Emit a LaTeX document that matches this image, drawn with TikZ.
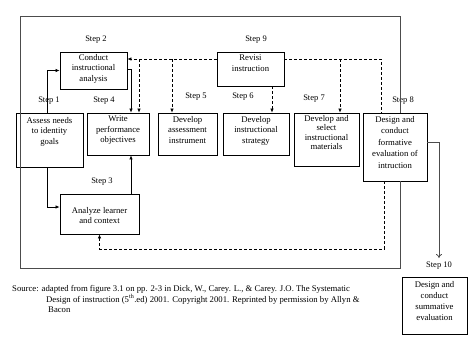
\documentclass[tikz,border=0pt]{standalone}
\usepackage{fontspec}
\setmainfont{Liberation Serif}
\usetikzlibrary{arrows.meta,calc}
\newcommand\bxt[4]{\parbox[c][#2][t]{#1}{\centering\vspace*{#3}#4}}
\begin{document}
\begin{tikzpicture}[x=1pt,y=-1pt,
  font=\fontsize{8.7}{10.5}\selectfont,
  stepbox/.style={draw=black,line width=0.8pt,inner sep=0pt,rectangle},
  steplbl/.style={inner sep=0pt,font=\fontsize{8.5}{9}\selectfont},
  arr/.style={line width=0.7pt,-{Latex[length=4pt,width=3.5pt]}},
  darr/.style={line width=0.7pt,dash pattern=on 3pt off 2pt,-{Latex[length=4pt,width=3.5pt]}},
  dln/.style={line width=0.7pt,dash pattern=on 3pt off 2pt},
  frame/.style={line width=0.8pt,draw=black!70}]
\useasboundingbox (0,0) rectangle (470,338);
\fill[white] (0,0) rectangle (470,338);

% boxes
\node[stepbox] (s2) at (93.5,70.5) {\bxt{67pt}{37pt}{2pt}{Conduct\\instructional\\analysis}};
\node[stepbox] (s9) at (250.5,69) {\bxt{67pt}{34pt}{3pt}{Revisi\\instruction}};
\node[stepbox] (s1) at (49.5,140) {\bxt{67pt}{54pt}{4pt}{Assess needs\\to identity\\goals}};
\node[stepbox] (s4) at (118,134) {\bxt{62pt}{42pt}{3pt}{Write\\performance\\objectives}};
\node[stepbox] (s5) at (187.5,134) {\bxt{59pt}{42pt}{3pt}{Develop\\assessment\\instrument}};
\node[stepbox] (s6) at (256,134) {\bxt{66pt}{42pt}{3pt}{Develop\\instructional\\strategy}};
\node[stepbox] (s7) at (326.5,139.5) {\bxt{65pt}{53pt}{2pt}{\fontsize{8.7}{9.5}\selectfont Develop and\\select\\instructional\\materials}};
\node[stepbox] (s8) at (395,147) {\bxt{64pt}{68pt}{3pt}{\fontsize{8.7}{11.5}\selectfont Design and\\conduct\\formative\\evaluation of\\intruction}};
\node[stepbox] (s3) at (99.5,214) {\bxt{79pt}{40pt}{13pt}{Analyze learner\\and context}};
\node[stepbox] (s10) at (434.5,305.5) {\bxt{65pt}{57pt}{4pt}{\fontsize{8.7}{11.3}\selectfont Design and\\conduct\\summative\\evaluation}};

% step labels
\node[steplbl] (l1) at (49,101) {Step 1};
\node[steplbl] (l2) at (96,40) {Step 2};
\node[steplbl] (l3) at (102,182) {Step 3};
\node[steplbl] (l4) at (104,101) {Step 4};
\node[steplbl] (l5) at (196,97) {Step 5};
\node[steplbl] (l6) at (243,97) {Step 6};
\node[steplbl] (l7) at (314,99) {Step 7};
\node[steplbl] (l8) at (403,101) {Step 8};
\node[steplbl] (l9) at (256,40) {Step 9};
\node[steplbl] (l10) at (439,266) {Step 10};

% frame loop
\coordinate (ftr) at (400,16);
\coordinate (ftl) at (20,16);
\coordinate (fbl) at (20,268);
\coordinate (fbr) at (400,268);
\draw[frame] ([xshift=5pt]s8.north) -- (ftr) -- (ftl) -- (fbl) -- (fbr) -- ([xshift=5pt]s8.south);

% helper coordinates
\coordinate (d9) at ([yshift=10pt]s9.west);
\coordinate (d9r) at ([yshift=10pt]s9.east);
\coordinate (s4a) at ([xshift=21pt]s4.north);
\coordinate (s4b) at ([xshift=13pt]s4.north);
\coordinate (s4c) at ([xshift=13pt]s4.south);
\coordinate (s5a) at ([xshift=-15.5pt]s5.north);
\coordinate (s9b) at ([xshift=21.5pt]s9.south);
\coordinate (s7a) at ([xshift=13.5pt]s7.north);
\coordinate (s8a) at ([xshift=-14pt]s8.north);
\coordinate (s8b) at ([xshift=-11pt]s8.south);
\coordinate (lp) at (384,249);
\coordinate (s1a) at ([xshift=-2.5pt]s1.north);
\coordinate (s1b) at ([xshift=-2.5pt]s1.south);
\coordinate (s3w) at ([yshift=7pt]s3.west);
\coordinate (s3n) at ([xshift=31.5pt]s3.north);
\coordinate (s2e) at ([yshift=1.5pt]s2.east);
\coordinate (s8e) at ([yshift=5pt]s8.east);
\coordinate (e10) at (439,258);

% solid arrows
\draw[arr] (s1a) |- (s2.west);
\draw[arr] (s2e) -| (s4b);
\draw[arr] (s1b) |- (s3w);
\draw[arr] (s3n) -- (s4c);
\draw[line width=0.8pt,draw=black!70,-{To[length=4pt,width=6pt]}] (s8e) -| (e10);

% dashed
\draw[darr] (d9) -- (d9 -| s2.east);
\draw[darr] (d9 -| s4a) -- (s4a);
\draw[darr] (d9 -| s5a) -- (s5a);
\draw[darr] (s9b) -- (s9b |- s6.north);
\draw[dln] (d9r) -| (s8a);
\draw[darr] (d9r -| s7a) -- (s7a);
\draw[darr] (s8b) |- (lp -| s3.south) -- (s3.south);

% source
\node[anchor=base west,inner sep=0pt] (src1) at (12,291) {Source: adapted from figure 3.1 on pp. 2-3 in Dick, W., Carey. L., \& Carey. J.O. The Systematic};
\node[anchor=base west,inner sep=0pt] (src2) at (46,302) {Design of instruction (5\textsuperscript{th}.ed) 2001. Copyright 2001. Reprinted by permission by Allyn \&};
\node[anchor=base west,inner sep=0pt] (src3) at (48,312.5) {Bacon};
\end{tikzpicture}
\end{document}
